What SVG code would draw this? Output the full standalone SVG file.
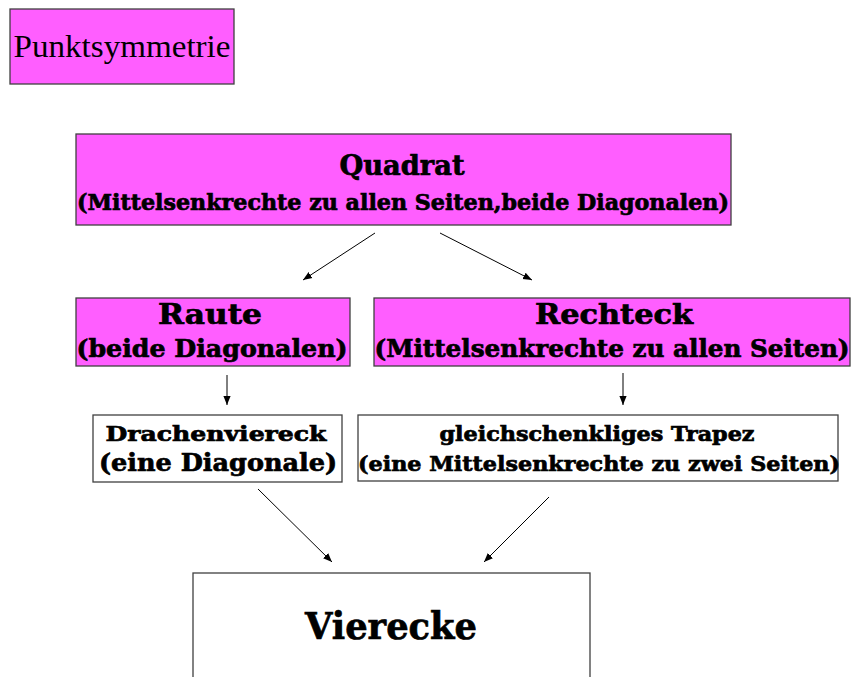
<svg xmlns="http://www.w3.org/2000/svg" width="851" height="677" viewBox="0 0 851 677">
<style>
.pink{fill:#FF5EFF;stroke:#404040;stroke-width:1.3}
.white{fill:#FFFFFF;stroke:#404040;stroke-width:1.3}
.b{font-family:"DejaVu Serif","Liberation Serif",serif;font-weight:bold;fill:#000;stroke:#000;stroke-width:0.7;text-anchor:middle}
.s{font-family:"Liberation Serif","Times New Roman",serif;fill:#000;text-anchor:middle}
.c{stroke:#000;stroke-width:1;fill:none;marker-end:url(#ah)}
</style>
<defs>
<marker id="ah" viewBox="0 0 10 10" refX="10" refY="5" markerWidth="9" markerHeight="9" markerUnits="userSpaceOnUse" orient="auto">
<path d="M0,1 L10,5 L0,9 Z" fill="#000"/>
</marker>
</defs>
<rect width="851" height="677" fill="#fff"/>
<g id="punktsymmetrie">
<rect class="pink" x="10" y="9" width="224" height="75"/>
<text class="s" x="122" y="57" font-size="32" textLength="217" lengthAdjust="spacingAndGlyphs">Punktsymmetrie</text>
</g>
<g id="quadrat">
<rect class="pink" x="76" y="134" width="655" height="91"/>
<text class="b" x="402" y="175" font-size="27" textLength="125" lengthAdjust="spacingAndGlyphs">Quadrat</text>
<text class="b" x="403" y="210" font-size="22" textLength="652" lengthAdjust="spacingAndGlyphs">(Mittelsenkrechte zu allen Seiten,beide Diagonalen)</text>
</g>
<g id="raute">
<rect class="pink" x="76" y="298" width="274" height="68"/>
<text class="b" x="210" y="324" font-size="28" textLength="104" lengthAdjust="spacingAndGlyphs">Raute</text>
<text class="b" x="212" y="357" font-size="24" textLength="271" lengthAdjust="spacingAndGlyphs">(beide Diagonalen)</text>
</g>
<g id="rechteck">
<rect class="pink" x="374" y="298" width="476" height="68"/>
<text class="b" x="614" y="324" font-size="28" textLength="158" lengthAdjust="spacingAndGlyphs">Rechteck</text>
<text class="b" x="612" y="357" font-size="24" textLength="475" lengthAdjust="spacingAndGlyphs">(Mittelsenkrechte zu allen Seiten)</text>
</g>
<g id="drachenviereck">
<rect class="white" x="93" y="415" width="249" height="67"/>
<text class="b" x="216" y="441" font-size="21" textLength="221" lengthAdjust="spacingAndGlyphs">Drachenviereck</text>
<text class="b" x="218" y="471" font-size="25" textLength="238" lengthAdjust="spacingAndGlyphs">(eine Diagonale)</text>
</g>
<g id="trapez">
<rect class="white" x="358" y="415" width="480" height="66"/>
<text class="b" x="597" y="441" font-size="20" textLength="315" lengthAdjust="spacingAndGlyphs">gleichschenkliges Trapez</text>
<text class="b" x="599" y="471" font-size="21" textLength="482" lengthAdjust="spacingAndGlyphs">(eine Mittelsenkrechte zu zwei Seiten)</text>
</g>
<g id="vierecke">
<rect class="white" x="193" y="573" width="397" height="120"/>
<text class="b" x="391" y="639" font-size="38" textLength="172" lengthAdjust="spacingAndGlyphs">Vierecke</text>
</g>
<g id="connectors">
<line class="c" x1="375" y1="233" x2="303" y2="280"/>
<line class="c" x1="440" y1="233" x2="532" y2="280"/>
<line class="c" x1="227" y1="375" x2="227" y2="405"/>
<line class="c" x1="623" y1="373" x2="623" y2="405"/>
<line class="c" x1="258" y1="489" x2="332" y2="562"/>
<line class="c" x1="549" y1="497" x2="484" y2="562"/>
</g>
</svg>
